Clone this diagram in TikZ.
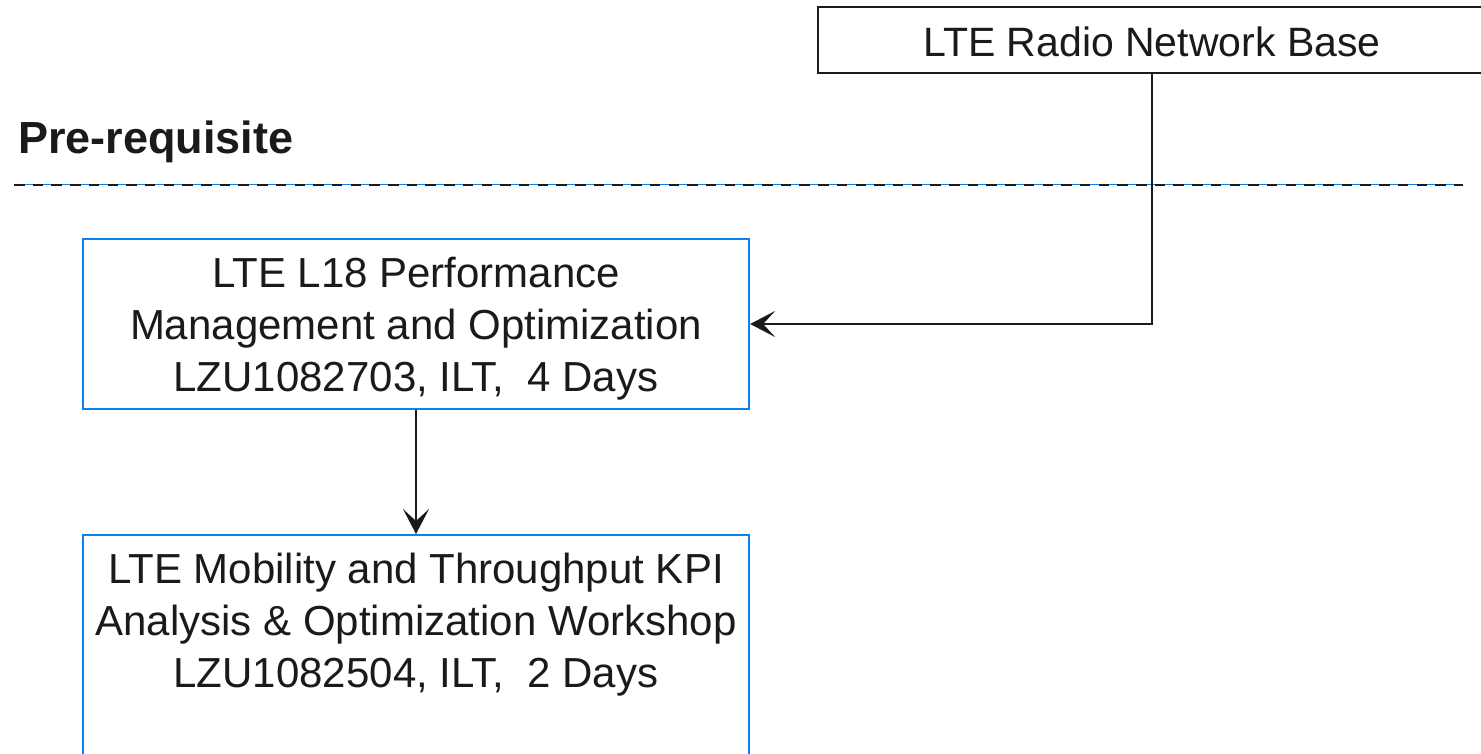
\documentclass[tikz,border=0pt]{standalone}
\usepackage{fontspec}
\setmainfont{Liberation Sans}
\usetikzlibrary{arrows.meta}
\definecolor{eblue}{HTML}{0A84F0}
\definecolor{ink}{HTML}{1A1A1A}
\tikzset{
  boxtext/.style={font=\fontsize{42}{52}\selectfont, text=ink, align=center, inner sep=0pt},
  bluebox/.style={draw=eblue, line width=2.2pt, fill=white, inner sep=0pt},
  blackbox/.style={draw=ink, line width=2pt, fill=white, inner sep=0pt},
  conn/.style={draw=ink, line width=2pt, -{Stealth[length=25pt,width=26pt,inset=12pt]}},
}
\begin{document}
\begin{tikzpicture}[x=1pt,y=-1pt]
\useasboundingbox (0,0) rectangle (1481,754);
\fill[white] (0,0) rectangle (1481,754);
\clip (0,0) rectangle (1481,754);

% header
\node[anchor=base west, inner sep=0pt, text=ink, font=\bfseries\fontsize{45}{50}\selectfont] (pre) at (18,154) {Pre-requisite};

% dashed separator
\coordinate (dl) at (14,185);
\coordinate (dr) at (1463,185);
\draw[eblue, line width=1pt] (dl) -- (dr);
\draw[ink, line width=2.6pt, dash pattern=on 10.5pt off 8.2pt] (dl) -- (dr);

% top box
\node[blackbox, minimum width=668pt, minimum height=66pt] (top) at (1152,40) {};
\node[boxtext, font=\fontsize{41}{50}\selectfont] (t0) at (1152,42) {LTE Radio Network Base};

% box 1
\node[bluebox, minimum width=666pt, minimum height=170pt] (b1) at (416,324) {};
\node[boxtext] (t1) at (416,329)
  {LTE L18 Performance\\Management and Optimization\\LZU1082703, ILT,\ \ 4 Days};

% box 2 (extends below the picture)
\node[bluebox, minimum width=666pt, minimum height=300pt, anchor=north] (b2) at (416,534) {};
\node[boxtext] (t2) at (416,625)
  {LTE Mobility and Throughput KPI\\Analysis \& Optimization Workshop\\LZU1082504, ILT,\ \ 2 Days};

% connectors
\draw[conn] (top.south) |- (b1.east);
\draw[conn] (b1.south) -- (b2.north);
\end{tikzpicture}
\end{document}
